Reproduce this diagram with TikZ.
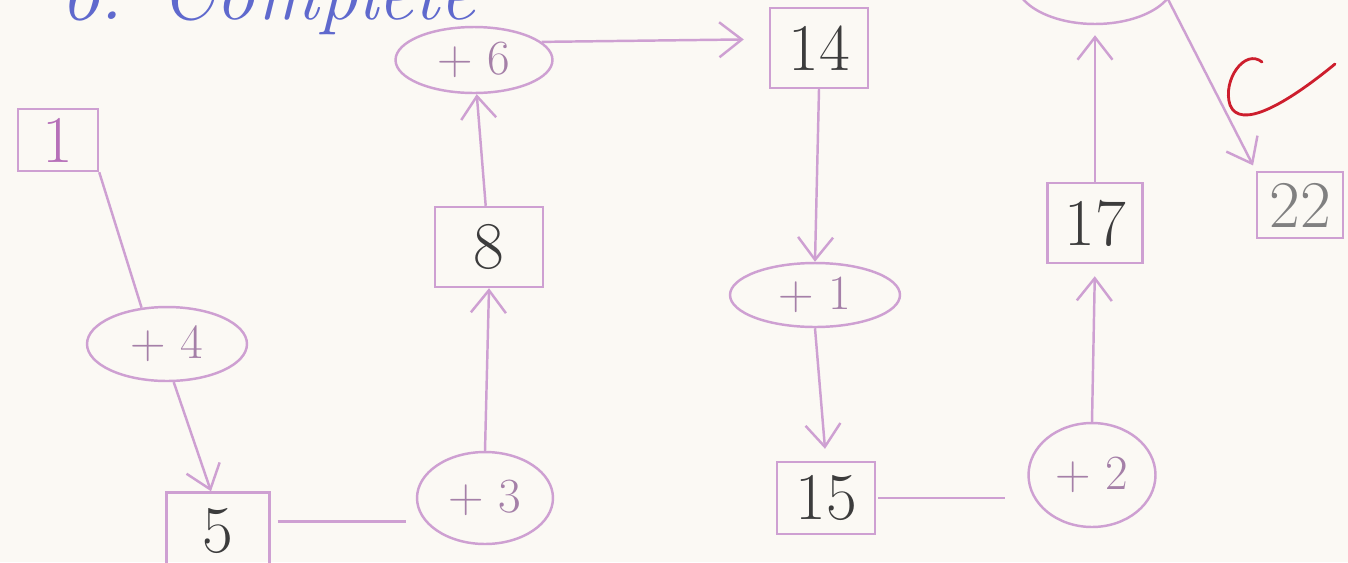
\documentclass[tikz,border=0pt]{standalone}
\usepackage{tikz}
\usetikzlibrary{arrows.meta}
\usetikzlibrary{shapes.geometric}
\definecolor{pencil}{RGB}{206,160,210}
\definecolor{paper}{RGB}{251,249,244}
\definecolor{ink}{RGB}{60,60,60}
\definecolor{biro}{RGB}{95,105,205}
\definecolor{marker}{RGB}{205,30,45}

\begin{document}
\begin{tikzpicture}[x=0.02cm,y=-0.02cm]
  \tikzstyle{box} = [draw=pencil,line width=1.4pt,inner sep=0pt,text=ink,font=\fontsize{38}{40}\selectfont]
  \tikzstyle{add} = [draw=pencil,line width=1.4pt,ellipse,inner sep=0pt,text=pencil!80!black,font=\fontsize{28}{30}\selectfont]
  \tikzstyle{Arr} = [draw=pencil,line width=1.4pt,-{Straight Barb[length=0.45cm,width=0.7cm]}]
  \tikzstyle{Line} = [draw=pencil,line width=1.4pt]
  %%
  \useasboundingbox (0,0) rectangle (1348,562);
  \clip (0,0) rectangle (1348,562);
  \fill [paper] (0,0) rectangle (1348,562);
  %%
  \node [anchor=base west,inner sep=0pt,text=biro,font=\fontsize{45}{50}\selectfont\itshape] (title) at (60,19) {6. Complete};
  %%
  \node [box,minimum width=1.6cm,minimum height=1.24cm,text=pencil!70!violet] (b1) at (58,140) {1};
  \node [add,minimum width=3.2cm,minimum height=1.48cm] (e4) at (167,344) {+ 4};
  \node [box,minimum width=2.06cm,minimum height=1.54cm] (b5) at (218,531) {5};
  \node [add,minimum width=2.72cm,minimum height=1.84cm] (e3) at (485,498) {+ 3};
  \node [box,minimum width=2.16cm,minimum height=1.6cm] (b8) at (489,247) {8};
  \node [add,minimum width=3.14cm,minimum height=1.32cm] (e6) at (474,60) {+ 6};
  \node [box,minimum width=1.96cm,minimum height=1.6cm] (b14) at (819,48) {14};
  \node [add,minimum width=3.4cm,minimum height=1.28cm] (e1) at (815,295) {+ 1};
  \node [box,minimum width=1.96cm,minimum height=1.44cm] (b15) at (826,498) {15};
  \node [add,minimum width=2.54cm,minimum height=2.08cm] (e2) at (1092,475) {+ 2};
  \node [box,minimum width=1.9cm,minimum height=1.6cm] (b17) at (1095,223) {17};
  \node [add,minimum width=3.2cm,minimum height=1.76cm] (e5) at (1095,-20) {};
  \node [box,minimum width=1.72cm,minimum height=1.32cm,text=gray] (b22) at (1300,205) {22};
  %%
  \path [Line] (b1.south east) -- (e4.125);
  \path [Arr] (e4.-80) -- (b5.100);
  \path [Line,shorten <=0.14cm,shorten >=0.2cm] (b5.10) -- (b5.10 -| e3.west);
  \path [Arr] (e3.north) -- (b8.south);
  \path [Arr] (b8) -- (e6);
  \path [Arr,shorten >=0.5cm] (e6.15) -- (b14.170);
  \path [Arr] (b14.south) -- (e1.north);
  \path [Arr,shorten >=0.24cm] (e1.south) -- (b15.north);
  \path [Line,shorten <=0.04cm,shorten >=0.44cm] (b15.east) -- (b15.east -| e2.west);
  \path [Arr,shorten >=0.24cm] (e2.north) -- (b17.south);
  \path [Arr,shorten >=0.2cm] (b17.north) -- (e5.south);
  \path [Arr,shorten >=0.12cm] (e5.-15) -- (b22.north west);
  %%
  \draw [marker,line width=1.6pt,line cap=round] (1262,62) .. controls (1245,48) and (1222,80) .. (1230,105) .. controls (1240,130) and (1285,105) .. (1335,64);
\end{tikzpicture}
\end{document}
